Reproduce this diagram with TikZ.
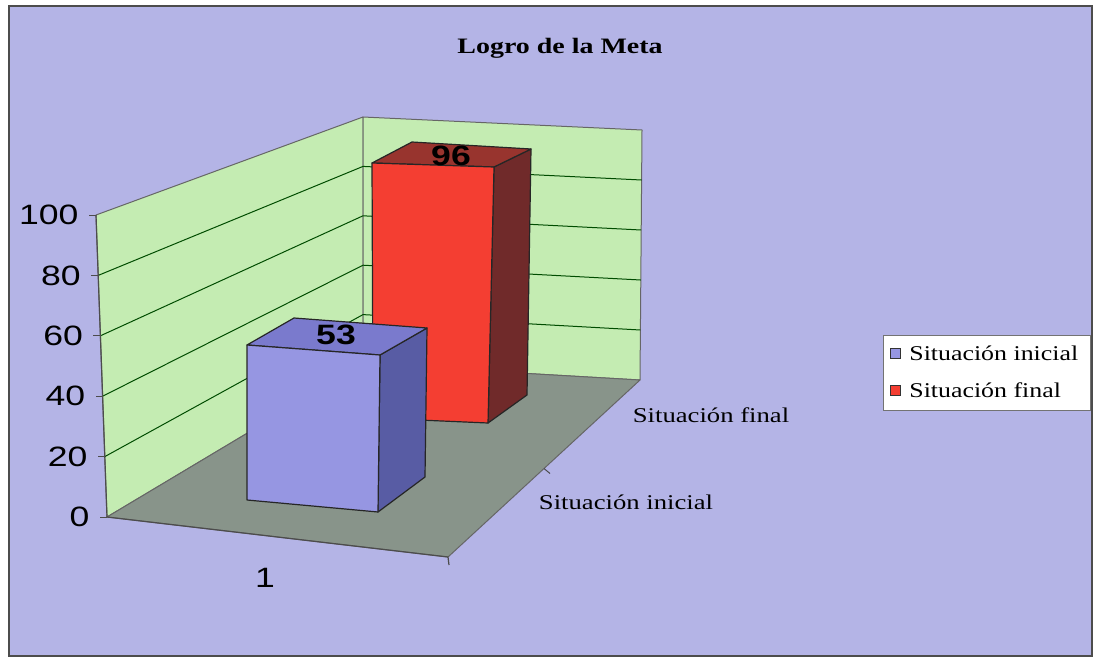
\documentclass[tikz,border=0pt]{standalone}
\usepackage{fontspec}
\setmainfont{Liberation Serif}
\setsansfont{Liberation Sans}
\usetikzlibrary{calc}
\definecolor{chartbg}{RGB}{180,180,230}
\definecolor{wallgreen}{RGB}{196,236,178}
\definecolor{floorgray}{RGB}{136,148,138}
\definecolor{inifront}{RGB}{150,150,226}
\definecolor{iniside}{RGB}{88,92,164}
\definecolor{initop}{RGB}{122,122,205}
\definecolor{finfront}{RGB}{244,62,50}
\definecolor{finside}{RGB}{112,42,42}
\definecolor{fintop}{RGB}{152,52,46}
\begin{document}
\begin{tikzpicture}[x=1pt,y=-1pt,
    wall/.style={fill=wallgreen,draw=black!60,line width=1pt,line join=round},
    gridline/.style={draw=black!70!green,line width=1pt},
    barface/.style={draw=black!85,line width=1.2pt,line join=round},
    numlbl/.style={font=\sffamily\fontsize{28}{30}\selectfont,xscale=1.27},
    serlbl/.style={font=\fontsize{21}{24}\selectfont,xscale=1.27}]
    \useasboundingbox (0,0) rectangle (1099,661);
    %% frame and title
    \draw[fill=chartbg,draw=black!70,line width=1.5pt] (9,6) rectangle (1092,656);
    \node[font=\bfseries\fontsize{22}{24}\selectfont,xscale=1.27] (title) at (560,48) {Logro de la Meta};
    %% walls and floor
    \coordinate (ftop) at (96,215);
    \coordinate (fbot) at (107,517);
    \coordinate (ctop) at (363,117);
    \coordinate (cbot) at (363,364);
    \coordinate (rtop) at (642,130);
    \coordinate (rbot) at (640,380);
    \coordinate (rfront) at (448,557);
    \draw[wall] (ftop) -- (ctop) -- (cbot) -- (fbot) -- cycle;
    \draw[wall] (ctop) -- (rtop) -- (rbot) -- (cbot) -- cycle;
    \draw[fill=floorgray,draw=black!60,line width=1pt,line join=round] (fbot) -- (cbot) -- (rbot) -- (rfront) -- cycle;
    \foreach \v in {20,40,60,80} {
        \draw[gridline] ($(fbot)!\v/100!(ftop)$) -- ($(cbot)!\v/100!(ctop)$) -- ($(rbot)!\v/100!(rtop)$);
    }
    %% value axis
    \draw[black!70,line width=1.2pt] (ftop) -- (fbot) -- (rfront) -- ++(1,8);
    \draw[black!70,line width=1pt] ($(rfront)!0.5!(rbot)$) -- ++(6,5);
    \foreach \v in {0,20,40,60,80,100} {
        \draw[black!70,line width=1pt] ($(fbot)!\v/100!(ftop)$) -- ++(-7,0) coordinate (t\v);
        \node[numlbl,anchor=east] (lbl\v) at ($(t\v)+(-6,0)$) {\v};
    }
    \node[numlbl] (cat1) at (265,578) {1};
    \node[serlbl] (serfin) at (711,415) {Situación final};
    \node[serlbl] (serini) at (626,502) {Situación inicial};
    %% bar: situacion final
    \draw[barface,fill=finside] (494,167) -- (531,149) -- (527,395) -- (488,423) -- cycle;
    \draw[barface,fill=fintop] (372,163) -- (412,142) -- (531,149) -- (494,167) -- cycle;
    \draw[barface,fill=finfront] (372,163) -- (494,167) -- (488,423) -- (373,418) -- cycle;
    \node[font=\sffamily\bfseries\fontsize{28}{30}\selectfont,xscale=1.27] (val96) at (451,156) {96};
    %% bar: situacion inicial
    \draw[barface,fill=iniside] (380,355) -- (427,328) -- (425,477) -- (378,512) -- cycle;
    \draw[barface,fill=initop] (247,345) -- (294,318) -- (427,328) -- (380,355) -- cycle;
    \draw[barface,fill=inifront] (247,345) -- (380,355) -- (378,512) -- (247,500) -- cycle;
    \node[font=\sffamily\bfseries\fontsize{28}{30}\selectfont,xscale=1.27] (val53) at (336,335) {53};
    %% legend
    \draw[fill=white,draw=black!55,line width=1pt] (883,335) rectangle (1090,410);
    \draw[fill=inifront,draw=black!80] (890,348) rectangle (900,358);
    \draw[fill=finfront,draw=black!80] (890,385) rectangle (900,395);
    \node[serlbl,anchor=west,xscale=0.97] (legini) at (905,353) {Situación inicial};
    \node[serlbl,anchor=west,xscale=0.97] (legfin) at (905,390) {Situación final};
\end{tikzpicture}
\end{document}
